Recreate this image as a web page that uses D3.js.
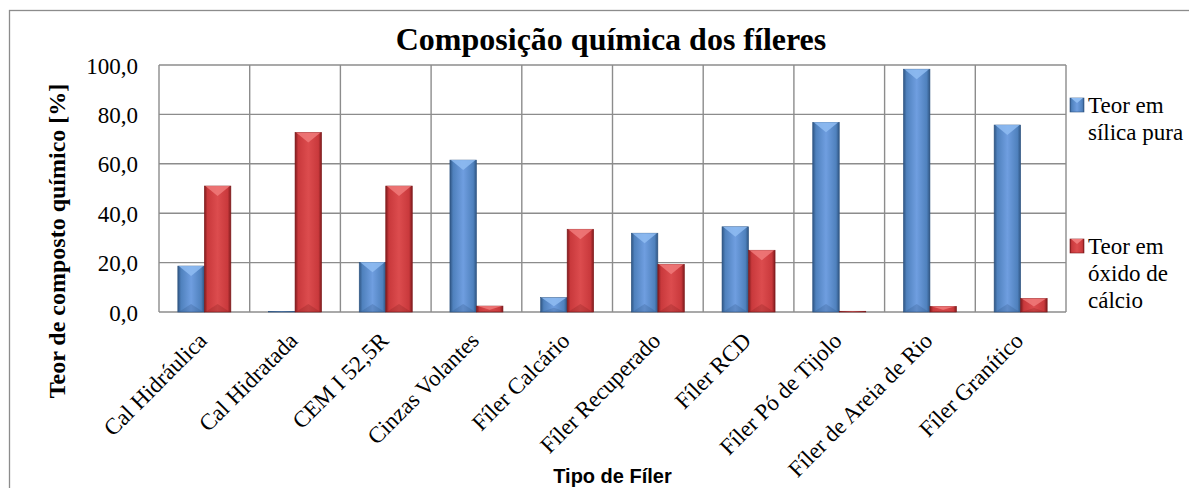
<!DOCTYPE html>
<html>
<head>
<meta charset="utf-8">
<script src="https://cdn.jsdelivr.net/npm/d3@7"></script>
<style>
body { margin:0; background:#fff; }
svg { display:block; }
svg text { font-family:'Liberation Serif','Times New Roman',serif; fill:#000; }
</style>
</head>
<body>
<script>
var w = 1189, h = 488;
var serif = "'Liberation Serif','Times New Roman',serif";

var categorias = ["Cal Hidráulica","Cal Hidratada","CEM I 52,5R","Cinzas Volantes","Fíler Calcário",
	"Fíler Recuperado","Fíler RCD","Fíler Pó de Tijolo","Fíler de Areia de Rio","Fíler Granítico"];
var silica = [18.6, 0.2, 20.1, 61.5, 5.8, 31.9, 34.5, 76.8, 98.3, 75.7];
var calcio = [51.0, 72.7, 51.0, 2.4, 33.5, 19.3, 25.0, 0.3, 2.3, 5.5];
var series = ["silica","calcio"];
var legendas = [["Teor em","sílica pura"],["Teor em","óxido de","cálcio"]];
var yTicks = [0,20,40,60,80,100];

var cores = {
	silica: {base:"#4f81bd", claro:"#6f9ee0", escuro:"#2f5582", topo:"#8fbcf2"},
	calcio: {base:"#c9393c", claro:"#dc4c4e", escuro:"#7e1a1c", topo:"#f07a7a"}
};

var margin = {left:159, top:65, right:1189-1066, bottom:488-312};

var svg = d3.select("body").append("svg")
	.attr("width", w)
	.attr("height", h);

// gradientes das barras
var defs = svg.append("defs");
series.forEach(function(s){
	var g = defs.append("linearGradient").attr("id","grad_"+s)
		.attr("x1","0%").attr("x2","100%").attr("y1","0%").attr("y2","0%");
	g.append("stop").attr("offset","0%").attr("stop-color",cores[s].escuro);
	g.append("stop").attr("offset","12%").attr("stop-color",cores[s].base);
	g.append("stop").attr("offset","50%").attr("stop-color",cores[s].claro);
	g.append("stop").attr("offset","88%").attr("stop-color",cores[s].base);
	g.append("stop").attr("offset","100%").attr("stop-color",cores[s].escuro);
});

// borda externa
svg.append("rect")
	.attr("x",9.5).attr("y",10.5)
	.attr("width",w+20).attr("height",h+20)
	.style("fill","none").style("stroke","#8c8c8c").style("stroke-width",1.3);

var x0 = d3.scaleBand()
	.domain(categorias)
	.range([margin.left, w-margin.right])
	.paddingInner(0).paddingOuter(0);

var x1 = d3.scaleBand()
	.domain(series)
	.range([0, x0.bandwidth()])
	.paddingInner(0).paddingOuter(0.71);

var y = d3.scaleLinear()
	.domain([0,100])
	.range([h-margin.bottom, margin.top]);

var locale = d3.formatLocale({decimal:",", thousands:".", grouping:[3], currency:["R$",""]});
var fmt = locale.format(".1f");

// grade horizontal
svg.append("g").selectAll("line")
	.data(yTicks)
	.enter()
	.append("line")
	.attr("x1", margin.left).attr("x2", w-margin.right)
	.attr("y1", function(d){ return y(d); })
	.attr("y2", function(d){ return y(d); })
	.style("stroke","#8c8c8c").style("stroke-width",1.4);

// grade vertical
var limites = categorias.map(function(c){ return x0(c); }).concat([x0.range()[1]]);
svg.append("g").selectAll("line")
	.data(limites)
	.enter()
	.append("line")
	.attr("x1", function(d){ return d; }).attr("x2", function(d){ return d; })
	.attr("y1", y(100)).attr("y2", y(0))
	.style("stroke","#8c8c8c").style("stroke-width",1.4);

// eixo y
var yAxis = svg.append("g")
	.attr("transform","translate("+margin.left+",0)")
	.call(d3.axisLeft(y).tickValues(yTicks).tickFormat(fmt).tickSize(0).tickPadding(21));
yAxis.select(".domain").remove();
yAxis.attr("font-family", serif).attr("font-size", 23);
yAxis.selectAll("text")
	.style("font-family", serif)
	.style("font-size","23px")
	.style("fill","#000")
	.attr("dy","0.35em");

// barras
var dados = categorias.map(function(c,i){
	return {cat:c, valores:[{s:"silica", v:silica[i]},{s:"calcio", v:calcio[i]}]};
});

var grupos = svg.append("g").selectAll("g")
	.data(dados)
	.enter()
	.append("g")
	.attr("transform", function(d){ return "translate("+x0(d.cat)+",0)"; });

var barras = grupos.selectAll("g")
	.data(function(d){ return d.valores; })
	.enter()
	.append("g");

barras.append("rect")
	.attr("x", function(d){ return x1(d.s); })
	.attr("y", function(d){ return y(d.v); })
	.attr("width", x1.bandwidth())
	.attr("height", function(d){ return y(0)-y(d.v); })
	.style("fill", function(d){ return "url(#grad_"+d.s+")"; })
	.style("stroke", function(d){ return cores[d.s].escuro; })
	.style("stroke-width", 0.6);

// chanfro superior
barras.append("path")
	.attr("d", function(d){
		var xa = x1(d.s), bw = x1.bandwidth(), yt = y(d.v), hh = y(0)-y(d.v);
		var p = Math.min(10, hh*0.6);
		return "M"+(xa+1)+","+yt+"L"+(xa+bw-1)+","+yt+"L"+(xa+bw/2)+","+(yt+p)+"Z";
	})
	.style("fill", function(d){ return cores[d.s].topo; })
	.style("opacity",0.85);

// chanfro inferior
barras.append("path")
	.attr("d", function(d){
		var xa = x1(d.s), bw = x1.bandwidth(), yb = y(0), hh = y(0)-y(d.v);
		var p = Math.min(8, hh*0.3);
		return "M"+(xa+1)+","+yb+"L"+(xa+bw-1)+","+yb+"L"+(xa+bw/2)+","+(yb-p)+"Z";
	})
	.style("fill", function(d){ return cores[d.s].escuro; })
	.style("opacity",0.25);

// rotulos das categorias
svg.append("g").selectAll("text")
	.data(categorias)
	.enter()
	.append("text")
	.attr("transform", function(d){
		return "translate("+(x0(d)+x0.bandwidth()/2+4)+",342) rotate(-45)";
	})
	.style("text-anchor","end")
	.style("font-family", serif)
	.style("font-size","23px")
	.text(function(d){ return d; });

// titulo
svg.append("text")
	.attr("x", 611).attr("y", 50)
	.style("text-anchor","middle")
	.style("font-family", serif)
	.style("font-size","32px")
	.style("font-weight","bold")
	.text("Composição química dos fíleres");

// titulo eixo y
svg.append("text")
	.attr("transform","translate(65,241) rotate(-90)")
	.style("text-anchor","middle")
	.style("font-family", serif)
	.style("font-size","24px")
	.style("font-weight","bold")
	.text("Teor de composto químico [%]");

// titulo eixo x
svg.append("text")
	.attr("x", (margin.left + w - margin.right)/2).attr("y", 483)
	.style("text-anchor","middle")
	.style("font-family","'Liberation Sans',Arial,sans-serif")
	.style("font-size","20px")
	.style("font-weight","bold")
	.text("Tipo de Fíler");

// legenda
var legend = svg.append("g").selectAll("g")
	.data(series)
	.enter()
	.append("g")
	.attr("transform", function(d,i){ return "translate(1070,"+(98+i*141)+")"; });

legend.append("rect")
	.attr("width",14).attr("height",14)
	.style("fill", function(d){ return "url(#grad_"+d+")"; })
	.style("stroke", function(d){ return cores[d].escuro; })
	.style("stroke-width",0.6);
legend.append("path")
	.attr("d","M1,0L13,0L7,5Z")
	.style("fill", function(d){ return cores[d].topo; });

legend.each(function(d,i){
	var g = d3.select(this);
	legendas[i].forEach(function(linha,j){
		g.append("text")
			.attr("x",18).attr("y",15+j*27)
			.style("font-family", serif)
			.style("font-size","23px")
			.text(linha);
	});
});
</script>
</body>
</html>
